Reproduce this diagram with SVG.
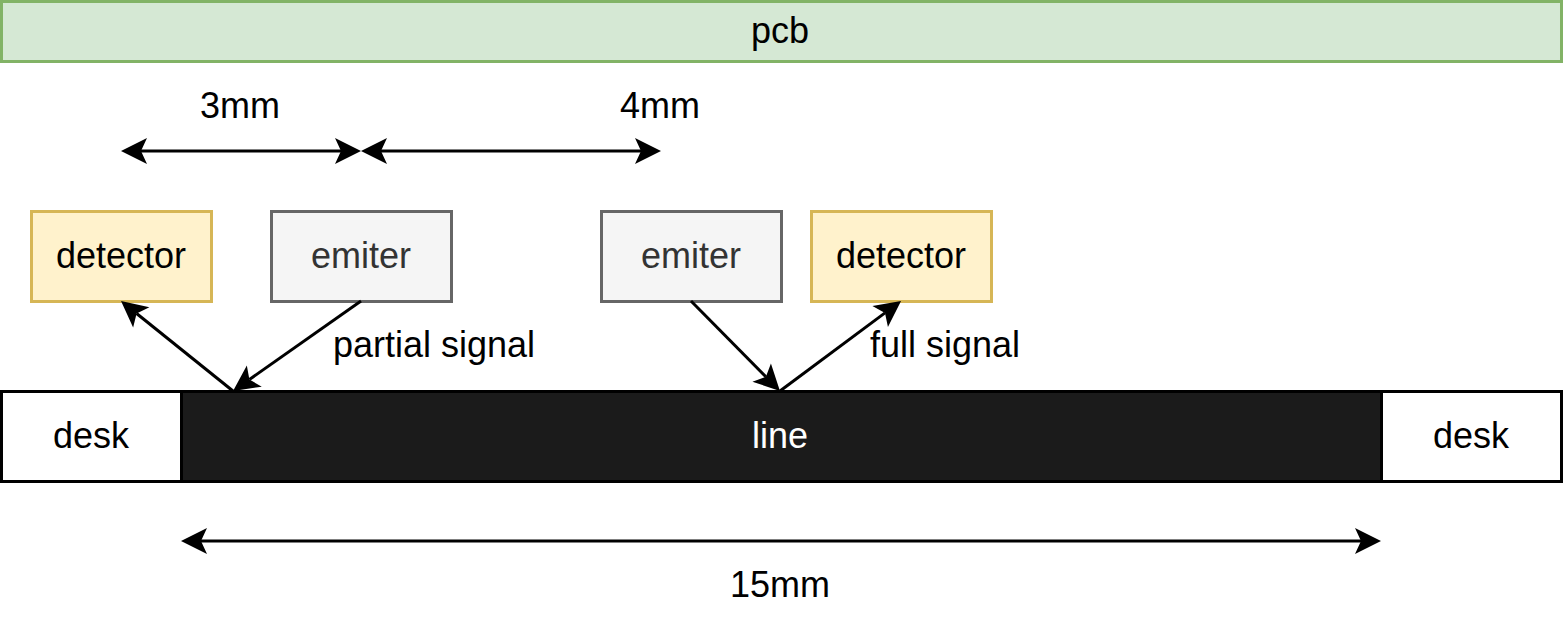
<svg xmlns="http://www.w3.org/2000/svg" width="1563" height="633" viewBox="0 0 1563 633">
<style>
text{font-family:"Liberation Sans",Helvetica,Arial,sans-serif;font-size:36px}
.c{text-anchor:middle}
.pcb{fill:#d5e8d4;stroke:#82b366;stroke-width:3}
.det{fill:#fff2cc;stroke:#d6b656;stroke-width:3}
.emi{fill:#f5f5f5;stroke:#666666;stroke-width:3}
.desk{fill:#ffffff;stroke:#000000;stroke-width:3}
.line{fill:#1b1b1b;stroke:#000000;stroke-width:3}
.edge{fill:none;stroke:#000000;stroke-width:3}
</style>
<defs>
<marker id="ah" markerUnits="userSpaceOnUse" markerWidth="26" markerHeight="26" refX="6" refY="13" orient="auto-start-reverse" overflow="visible">
<path d="M26,13 L0,0 L6,13 L0,26 Z" fill="#000000"/>
</marker>
</defs>
<g id="pcb"><rect class="pcb" x="1.5" y="1.5" width="1560" height="60"/><text class="c" x="780" y="43">pcb</text></g>
<g id="detector1"><rect class="det" x="31.5" y="211.5" width="180" height="90"/><text class="c" x="121" y="268">detector</text></g>
<g id="emiter1"><rect class="emi" x="271.5" y="211.5" width="180" height="90"/><text class="c" x="361" y="268" fill="#333333">emiter</text></g>
<g id="emiter2"><rect class="emi" x="601.5" y="211.5" width="180" height="90"/><text class="c" x="691" y="268" fill="#333333">emiter</text></g>
<g id="detector2"><rect class="det" x="811.5" y="211.5" width="180" height="90"/><text class="c" x="901" y="268">detector</text></g>
<g id="desk-left"><rect class="desk" x="1.5" y="391.5" width="180" height="90"/><text class="c" x="91" y="448">desk</text></g>
<g id="line"><rect class="line" x="181.5" y="391.5" width="1200" height="90"/><text class="c" x="780" y="448" fill="#ffffff">line</text></g>
<g id="desk-right"><rect class="desk" x="1381.5" y="391.5" width="180" height="90"/><text class="c" x="1471" y="448">desk</text></g>
<g id="labels">
<text class="c" x="240" y="118">3mm</text>
<text class="c" x="660" y="118">4mm</text>
<text class="c" x="780" y="597">15mm</text>
<text x="333" y="357">partial signal</text>
<text x="870" y="357">full signal</text>
</g>
<g id="connectors">
<path class="edge" d="M141,151 L341,151" marker-start="url(#ah)" marker-end="url(#ah)"/>
<path class="edge" d="M381,151 L641,151" marker-start="url(#ah)" marker-end="url(#ah)"/>
<path class="edge" d="M201,541 L1361,541" marker-start="url(#ah)" marker-end="url(#ah)"/>
<path class="edge" d="M361,301 L249.4,379.5" marker-end="url(#ah)"/>
<path class="edge" d="M233,391 L136.6,313.5" marker-end="url(#ah)"/>
<path class="edge" d="M691,301 L765.9,376.8" marker-end="url(#ah)"/>
<path class="edge" d="M780,391 L885,312.9" marker-end="url(#ah)"/>
</g>
</svg>
